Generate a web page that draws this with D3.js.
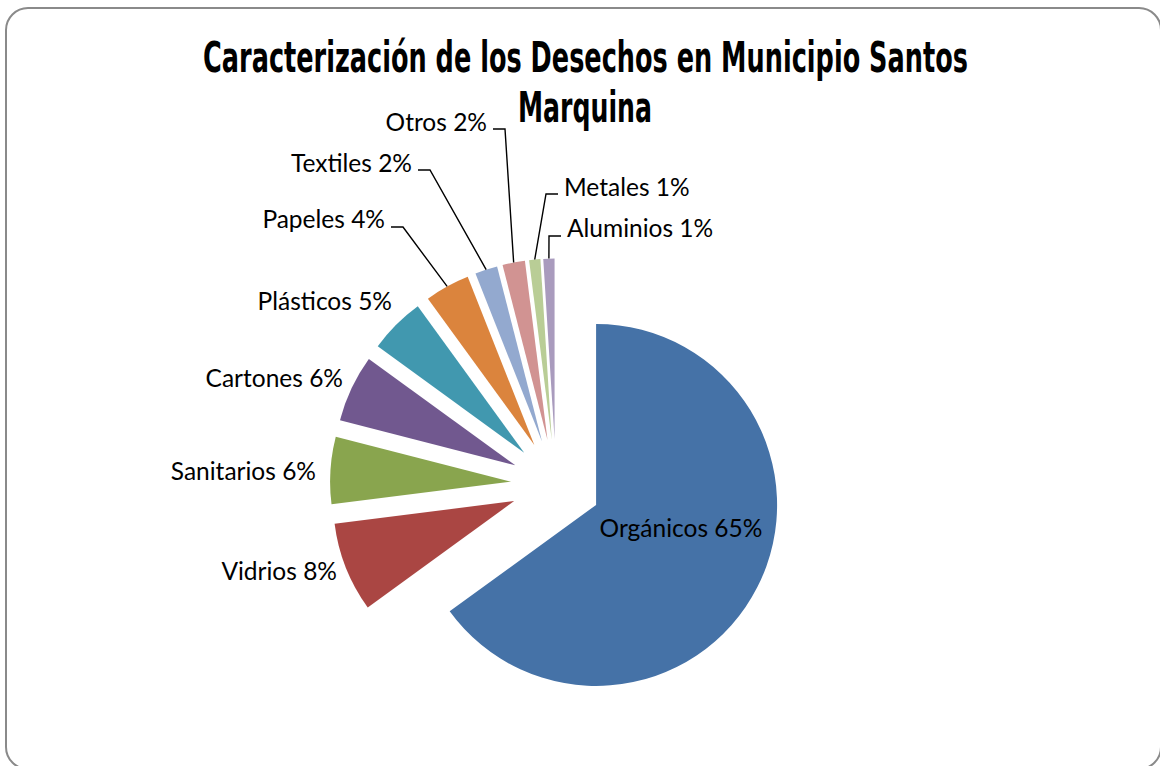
<!DOCTYPE html>
<html><head><meta charset="utf-8">
<script src="https://cdn.jsdelivr.net/npm/d3@7"></script>
<style>body{margin:0;background:#fff;overflow:hidden}</style>
</head><body>
<svg id="chart" width="1160" height="766"></svg>
<script>
// ---- data ----
const categories = ["Orgánicos","Vidrios","Sanitarios","Cartones","Plásticos","Papeles","Textiles","Otros","Metales","Aluminios"];
const values = [65, 8, 6, 6, 5, 4, 2, 2, 1, 1];
const colors = ["#4572A7","#AA4643","#89A54E","#71588F","#4198AF","#DB843D","#93A9CF","#D19392","#B9CD96","#A99BBD"];
const titleLines = ["Caracterización de los Desechos en Municipio Santos", "Marquina"];

// ---- layout ----
const W = 1160, H = 766;
const cx = 556, cy = 484.5, radius = 181, explode = 45;
const labelFont = "Lato, 'Open Sans', sans-serif";
const labelSize = 24.5;
const labelLayout = [
  {x: 681, y: 537, anchor: "middle"},
  {x: 337, y: 580, anchor: "end"},
  {x: 316, y: 480, anchor: "end"},
  {x: 343, y: 387, anchor: "end"},
  {x: 392, y: 310, anchor: "end"},
  {x: 385, y: 228, anchor: "end", leader: true, ly: 227},
  {x: 412, y: 172, anchor: "end", leader: true, ly: 170},
  {x: 487, y: 131, anchor: "end", leader: true, ly: 129},
  {x: 564, y: 196, anchor: "start", leader: true, ly: 194},
  {x: 567, y: 237, anchor: "start", leader: true, ly: 236}
];
const titleLayout = [
  {x: 585.5, y: 72, width: 765},
  {x: 585, y: 122, width: 134}
];

const svg = d3.select("#chart");

// frame
svg.append("rect")
  .attr("x", 6).attr("y", 8).attr("width", 1155).attr("height", 761)
  .attr("rx", 22).attr("ry", 22)
  .attr("fill", "#fff").attr("stroke", "#8a8a8a").attr("stroke-width", 2);

// title (condensed by horizontal scaling)
const title = svg.append("g").attr("font-family", "'DejaVu Sans Condensed', 'DejaVu Sans', sans-serif")
  .attr("font-weight", "bold").attr("fill", "#000");
titleLines.forEach((t, i) => {
  const L = titleLayout[i];
  const txt = title.append("text").attr("x", 0).attr("y", 0).attr("text-anchor", "middle")
    .attr("font-size", 43).text(t);
  const w = txt.node().getComputedTextLength();
  const sx = w > 0 ? L.width / w : 1;
  txt.attr("transform", `translate(${L.x},${L.y}) scale(${sx},1)`);
});

// pie
const pie = d3.pie().sort(null).value(d => d).startAngle(0).endAngle(2 * Math.PI);
const arcs = pie(values);
const arc = d3.arc().innerRadius(0).outerRadius(radius);

const offset = a => {
  const m = (a.startAngle + a.endAngle) / 2;
  return [Math.sin(m) * explode, -Math.cos(m) * explode];
};

const g = svg.append("g").attr("transform", `translate(${cx},${cy})`);
g.selectAll("path.slice").data(arcs).join("path")
  .attr("class", "slice")
  .attr("transform", a => { const o = offset(a); return `translate(${o[0]},${o[1]})`; })
  .attr("d", arc)
  .attr("fill", (a, i) => colors[i]);

// leader lines
const outerPoint = a => {
  const m = (a.startAngle + a.endAngle) / 2;
  const r = explode + radius;
  return [cx + Math.sin(m) * r, cy - Math.cos(m) * r];
};
arcs.forEach((a, i) => {
  const L = labelLayout[i];
  if (!L.leader) return;
  const p = outerPoint(a);
  let x0, x1;
  if (L.anchor === "end") { x0 = L.x + 6; x1 = L.x + 18; }
  else { x0 = L.x - 6; x1 = L.x - 18; }
  svg.append("path")
    .attr("d", d3.line()([[x0, L.ly], [x1, L.ly], p]))
    .attr("fill", "none").attr("stroke", "#000").attr("stroke-width", 1.4);
});

// labels
svg.append("g").selectAll("text").data(arcs).join("text")
  .attr("x", (a, i) => labelLayout[i].x)
  .attr("y", (a, i) => labelLayout[i].y)
  .attr("text-anchor", (a, i) => labelLayout[i].anchor)
  .attr("font-family", labelFont).attr("font-size", labelSize).attr("fill", "#000")
  .text((a, i) => `${categories[i]} ${values[i]}%`);
</script>
</body></html>
